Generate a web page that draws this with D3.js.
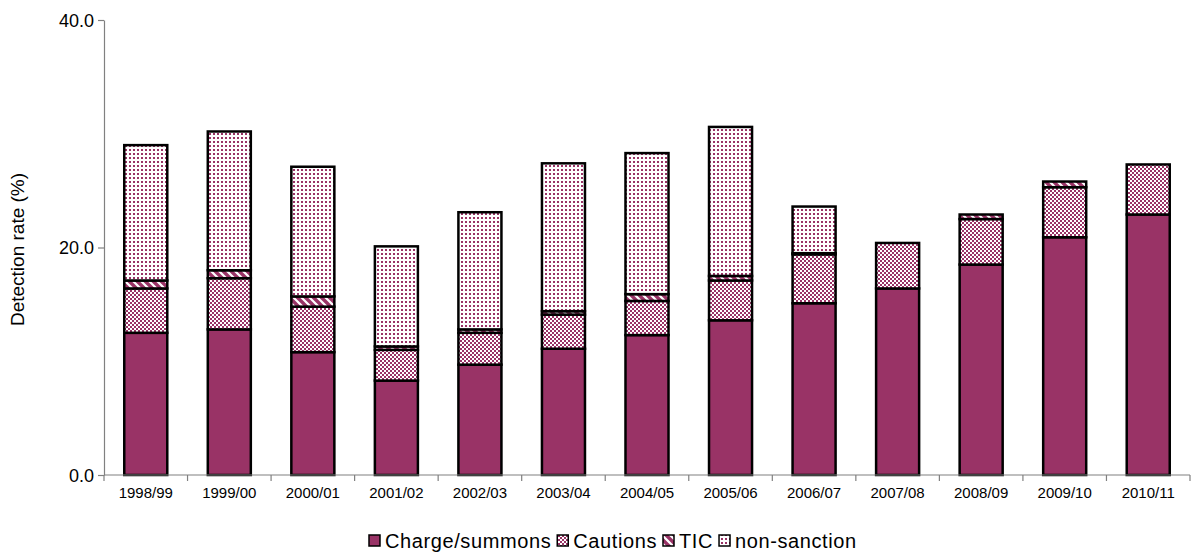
<!DOCTYPE html>
<html>
<head>
<meta charset="utf-8">
<script src="https://cdn.jsdelivr.net/npm/d3@7"></script>
<style>
  html, body { margin: 0; padding: 0; background: #fff; }
  svg { display: block; }
  text { font-family: "Liberation Sans", Arial, sans-serif; fill: #000; }
  .xlab { font-family: "Liberation Sans Narrow", "Arial Narrow", "Liberation Sans", sans-serif; }
</style>
</head>
<body>
<svg id="chart" width="1204" height="554"></svg>
<script>
// Financial years on the category axis
const years = ["1998/99","1999/00","2000/01","2001/02","2002/03","2003/04","2004/05",
               "2005/06","2006/07","2007/08","2008/09","2009/10","2010/11"];

// Detection rate (%) by outcome type, stacked bottom to top
const chargeSummons = [12.5, 12.8, 10.8, 8.3, 9.7, 11.1, 12.3, 13.6, 15.1, 16.4, 18.5, 20.9, 22.9];
const cautions      = [ 3.9,  4.5,  4.0, 2.7, 2.8,  3.0,  3.0,  3.5,  4.3,  4.0,  4.0,  4.4,  4.4];
const tic           = [ 0.7,  0.7,  0.9, 0.3, 0.3,  0.3,  0.6,  0.4,  0.1,  0.0,  0.4,  0.5,  0.0];
const nonSanction   = [11.9, 12.2, 11.4, 8.8, 10.3, 13.0, 12.4, 13.1,  4.1,  0.0,  0.0,  0.0,  0.0];

const seriesNames = ["Charge/summons", "Cautions", "TIC", "non-sanction"];
const yTicks = [0, 20, 40];

const plum = "#993366";

const svg = d3.select("#chart");
const defs = svg.append("defs");

// Fill patterns: solid, checkerboard, diagonal stripes, dots
const pCheck = defs.append("pattern").attr("id", "pat-check")
  .attr("patternUnits", "userSpaceOnUse").attr("width", 4).attr("height", 4);
pCheck.append("rect").attr("width", 4).attr("height", 4).attr("fill", "#fff");
pCheck.append("rect").attr("x", 0).attr("y", 0).attr("width", 2).attr("height", 2).attr("fill", plum);
pCheck.append("rect").attr("x", 2).attr("y", 2).attr("width", 2).attr("height", 2).attr("fill", plum);

const pStripe = defs.append("pattern").attr("id", "pat-stripe")
  .attr("patternUnits", "userSpaceOnUse").attr("width", 8).attr("height", 8);
pStripe.append("rect").attr("width", 8).attr("height", 8).attr("fill", "#fff");
pStripe.append("path").attr("d", "M-2,-2 L10,10 M-2,6 L2,10 M6,-2 L10,2")
  .attr("stroke", plum).attr("stroke-width", 3.4);

const pDots = defs.append("pattern").attr("id", "pat-dots")
  .attr("patternUnits", "userSpaceOnUse").attr("width", 4).attr("height", 4);
pDots.append("rect").attr("width", 4).attr("height", 4).attr("fill", "#fff");
pDots.append("rect").attr("x", 1).attr("y", 1).attr("width", 2).attr("height", 2).attr("fill", plum);

const fills = [plum, "url(#pat-check)", "url(#pat-stripe)", "url(#pat-dots)"];

// Plot area
const plotLeft = 104, plotRight = 1190, plotTop = 20, plotBottom = 475;

const x = d3.scaleBand().domain(years).range([plotLeft, plotRight])
  .paddingInner(0.485).paddingOuter(0.2425);
const y = d3.scaleLinear().domain([0, 40]).range([plotBottom, plotTop]);

// Stack the four series
const rows = years.map((yr, i) => ({
  year: yr,
  "Charge/summons": chargeSummons[i],
  "Cautions": cautions[i],
  "TIC": tic[i],
  "non-sanction": nonSanction[i]
}));
const stacked = d3.stack().keys(seriesNames)(rows);

const barsG = svg.append("g");
stacked.forEach((layer, si) => {
  barsG.append("g")
    .selectAll("rect")
    .data(layer.filter(d => d[1] - d[0] > 0))
    .join("rect")
    .attr("x", d => x(d.data.year))
    .attr("width", x.bandwidth())
    .attr("y", d => y(d[1]))
    .attr("height", d => y(d[0]) - y(d[1]))
    .attr("fill", fills[si])
    .attr("stroke", "#000")
    .attr("stroke-width", 2.5);
});

// Y axis
const yAxis = d3.axisLeft(y).tickValues(yTicks).tickSize(6).tickSizeOuter(0)
  .tickFormat(d3.format(".1f"));
const gy = svg.append("g").attr("transform", `translate(${plotLeft},0)`).call(yAxis);
gy.select(".domain").attr("stroke", "#808080").attr("stroke-width", 1.2);
gy.selectAll(".tick line").attr("stroke", "#808080").attr("stroke-width", 1.2);
gy.selectAll(".tick text").attr("x", -10).attr("dy", "0.36em")
  .style("font-size", "18px").style("font-family", '"Liberation Sans", Arial, sans-serif');

// X axis: line along the baseline with ticks between categories
const step = x.step();
svg.append("line")
  .attr("x1", plotLeft).attr("x2", plotRight).attr("y1", plotBottom).attr("y2", plotBottom)
  .attr("stroke", "#808080").attr("stroke-width", 1.2);
svg.append("g").selectAll("line")
  .data(d3.range(years.length + 1))
  .join("line")
  .attr("x1", i => plotLeft + i * step).attr("x2", i => plotLeft + i * step)
  .attr("y1", plotBottom).attr("y2", plotBottom + 6)
  .attr("stroke", "#808080").attr("stroke-width", 1.2);
svg.append("g").selectAll("text")
  .data(years)
  .join("text")
  .attr("class", "xlab")
  .attr("x", d => x(d) + x.bandwidth() / 2)
  .attr("y", 493)
  .attr("text-anchor", "middle")
  .attr("dy", "0.36em")
  .style("font-size", "15px")
  .text(d => d);

// Y axis title
svg.append("text")
  .attr("transform", `translate(24,${(plotTop + plotBottom) / 2 + 2}) rotate(-90)`)
  .attr("text-anchor", "middle")
  .style("font-size", "19px")
  .text("Detection rate (%)");

// Legend
const legend = svg.append("g").attr("transform", "translate(0,541)");
let lx = 369;
seriesNames.forEach((name, i) => {
  legend.append("rect")
    .attr("x", lx).attr("y", -6).attr("width", 11).attr("height", 11)
    .attr("fill", fills[i]).attr("stroke", "#000").attr("stroke-width", 1.5);
  const t = legend.append("text")
    .attr("x", lx + 16).attr("y", 0).attr("dy", "0.36em")
    .style("font-size", "20px")
    .style("letter-spacing", "0.6px")
    .text(name);
  lx += 16 + t.node().getComputedTextLength() + 6;
});
</script>
</body>
</html>
